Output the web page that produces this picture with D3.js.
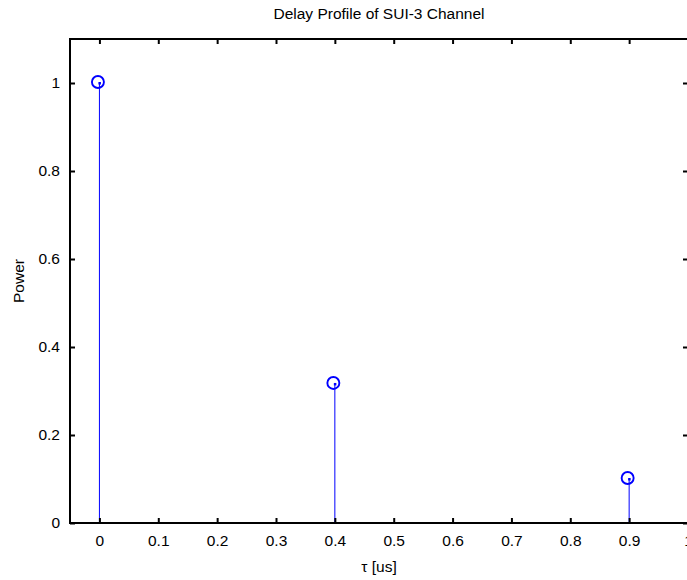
<!DOCTYPE html>
<html>
<head>
<meta charset="utf-8">
<script src="https://cdn.jsdelivr.net/npm/d3@7"></script>
<style>
  html, body { margin: 0; padding: 0; background: #fff; }
  svg { display: block; }
  text { font-family: "Liberation Sans", Arial, Helvetica, sans-serif; }
</style>
</head>
<body>
<div id="chart"></div>
<script>
// Data
const delays = [0, 0.4, 0.9];          // tau [us]
const powers = [1, 0.316, 0.1];        // linear power (0, -5, -10 dB)
const xTicks = [0, 0.1, 0.2, 0.3, 0.4, 0.5, 0.6, 0.7, 0.8, 0.9, 1];
const yTicks = [0, 0.2, 0.4, 0.6, 0.8, 1];
const xDomain = [-0.05, 1];
const yDomain = [0, 1.1];

(function () {
const W = 687, H = 580;
const L = 70, R = 688, T = 39, B = 523;

const svg = d3.select("#chart").append("svg")
  .attr("width", W).attr("height", H);

svg.append("rect").attr("width", W).attr("height", H).attr("fill", "#fff");

const x = d3.scaleLinear().domain(xDomain).range([L, R]);
const y = d3.scaleLinear().domain(yDomain).range([B, T]);

const fs = 15.5;
const tickLen = 5;

// Stems
const g = svg.append("g");
g.selectAll("line.stem").data(delays).join("line")
  .attr("class", "stem")
  .attr("x1", d => x(d)).attr("x2", d => x(d))
  .attr("y1", y(0)).attr("y2", (d, i) => y(powers[i]))
  .attr("stroke", "#0000ff").attr("stroke-width", 1);

g.selectAll("circle.mk").data(delays).join("circle")
  .attr("class", "mk")
  .attr("cx", d => x(d) - 1.5).attr("cy", (d, i) => y(powers[i]) - 1)
  .attr("r", 6)
  .attr("fill", "none").attr("stroke", "#0000ff").attr("stroke-width", 1.9);

g.selectAll("rect.dot").data(delays).join("rect")
  .attr("class", "dot")
  .attr("x", d => x(d) - 1).attr("y", (d, i) => y(powers[i]) - 1)
  .attr("width", 2.5).attr("height", 2.5).attr("fill", "#0000ff");

// Axes (box with inward ticks)
const axisColor = "#000";
const axB = d3.axisBottom(x).tickValues(xTicks).tickSizeInner(-tickLen).tickSizeOuter(0)
  .tickPadding(12).tickFormat(d3.format("~g"));
const axT = d3.axisTop(x).tickValues(xTicks).tickSizeInner(-tickLen).tickSizeOuter(0).tickFormat("");
const axL = d3.axisLeft(y).tickValues(yTicks).tickSizeInner(-tickLen).tickSizeOuter(0)
  .tickPadding(10).tickFormat(d3.format("~g"));
const axR = d3.axisRight(y).tickValues(yTicks).tickSizeInner(-tickLen).tickSizeOuter(0).tickFormat("");

function styleAxis(sel) {
  sel.select(".domain").remove();
  sel.selectAll(".tick line").attr("stroke", axisColor).attr("stroke-width", 2);
  sel.selectAll(".tick text").attr("fill", "#000").attr("font-size", fs)
    .attr("font-family", "Liberation Sans, Arial, sans-serif");
}

svg.append("g").attr("transform", `translate(0,${B})`).call(axB).call(styleAxis);
svg.append("g").attr("transform", `translate(0,${T})`).call(axT).call(styleAxis);
svg.append("g").attr("transform", `translate(${L},0)`).call(axL).call(styleAxis);
svg.append("g").attr("transform", `translate(${R},0)`).call(axR).call(styleAxis);

// Box
svg.append("rect")
  .attr("x", L).attr("y", T).attr("width", R - L).attr("height", B - T)
  .attr("fill", "none").attr("stroke", axisColor).attr("stroke-width", 2);

// Title & labels
svg.append("text")
  .attr("x", (L + R) / 2).attr("y", 19)
  .attr("text-anchor", "middle").attr("font-size", fs)
  .text("Delay Profile of SUI-3 Channel");

svg.append("text")
  .attr("x", (L + R) / 2).attr("y", 572)
  .attr("text-anchor", "middle").attr("font-size", fs)
  .text("τ [us]");

svg.append("text")
  .attr("transform", `translate(24,${(T + B) / 2}) rotate(-90)`)
  .attr("text-anchor", "middle").attr("font-size", fs)
  .text("Power");
})();
</script>
</body>
</html>
